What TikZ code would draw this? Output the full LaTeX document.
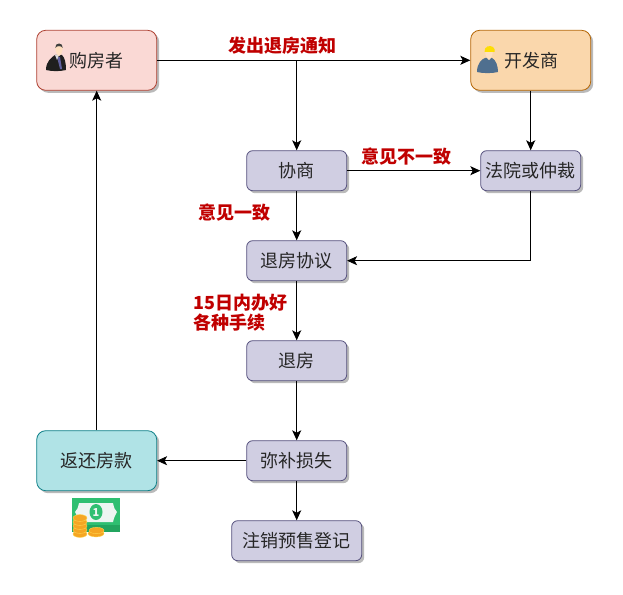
\documentclass[tikz,border=0pt]{standalone}
\usepackage{fontspec}
\setmainfont{Noto Sans CJK SC}
\usetikzlibrary{arrows.meta,shadows}
\definecolor{boxfill}{HTML}{D0CEE2}\definecolor{boxline}{HTML}{56517E}
\definecolor{redfill}{HTML}{FAD9D5}\definecolor{redline}{HTML}{AE4132}
\definecolor{orfill}{HTML}{FAD7AC}\definecolor{orline}{HTML}{B46504}
\definecolor{tealfill}{HTML}{B0E3E6}\definecolor{tealline}{HTML}{0E8088}
\definecolor{lab}{HTML}{C00000}
\definecolor{billg}{HTML}{2FBF71}\definecolor{billd}{HTML}{23A55F}\definecolor{billw}{HTML}{EEF5F2}
\definecolor{coin}{HTML}{F5A623}\definecolor{coinl}{HTML}{FFD34D}
\definecolor{devb}{HTML}{4F6F8F}
\tikzset{x=1pt,y=-1pt,
 flow/.style={rectangle,rounded corners=6pt,draw=boxline,fill=boxfill,line width=.8pt,minimum width=100pt,minimum height=40pt,inner sep=0pt,font=\fontsize{18}{20}\selectfont,text=black!85,drop shadow={shadow xshift=2.5pt,shadow yshift=-2.5pt,fill=black!45,opacity=.6}},
 big/.style={flow,minimum width=120pt,minimum height=60pt,rounded corners=9pt},
 conn/.style={draw=black,line width=.8pt,-{Stealth[length=10pt,width=9pt,inset=2.5pt]}},
 lbl/.style={font=\fontsize{18}{20}\bfseries\selectfont,text=lab,align=left,inner sep=0pt},
 coinst/.style={fill=coin,draw=coinl,line width=.4pt}}
\begin{document}
\begin{tikzpicture}
\useasboundingbox (0,0) rectangle (623,594);
\node[big,draw=redline,fill=redfill] (buyer) at (96.7,60.3) {};
\node[big,draw=orline,fill=orfill] (dev) at (530.7,60.3) {};
\node[flow] (xs) at (296.7,170.7) {协商};
\node[flow] (court) at (530.7,170.7) {法院或仲裁};
\node[flow] (xy) at (296.7,260.7) {退房协议};
\node[flow] (tf) at (296.7,360.7) {退房};
\node[flow] (mb) at (296.7,460.7) {弥补损失};
\node[flow,minimum width=130pt] (zx) at (296.7,540.7) {注销预售登记};
\node[big,draw=tealline,fill=tealfill] (fh) at (96.7,460.7) {返还房款};
\node[font=\fontsize{18}{20}\selectfont,text=black!85,inner sep=0pt] (buyert) at (96.5,60.5) {购房者};
\node[font=\fontsize{18}{20}\selectfont,text=black!85,inner sep=0pt] (devt) at (531,60.5) {开发商};
\coordinate (j) at (296.7,60.3);
\draw[conn] (buyer) -- (dev);
\draw[conn] (j) -- (xs);
\draw[conn] (dev) -- (court);
\draw[conn] (xs) -- (court);
\draw[conn] (xs) -- (xy);
\draw[conn] (court.south) |- (xy.east);
\draw[conn] (xy) -- (tf);
\draw[conn] (tf) -- (mb);
\draw[conn] (mb) -- (zx);
\draw[conn] (mb) -- (fh);
\draw[conn] (fh) -- (buyer);
\node[lbl,anchor=center] (l1) at (282,46) {发出退房通知};
\node[lbl,anchor=center] (l2) at (406,156.5) {意见不一致};
\node[lbl,anchor=center] (l3) at (234,212.5) {意见一致};
\node[lbl,anchor=north west] (l4) at (193,294) {15日内办好\\各种手续};
% buyer icon
\fill[black!88] (46,70) .. controls (46,61) and (52,57) .. (55,55) -- (62,55) .. controls (65,58) and (66,63) .. (66,70) .. controls (60,71.5) and (52,71.5) .. (46,70) -- cycle;
\fill[blue!25!gray] (57,57) -- (60,57) -- (62,69) -- (60,69) -- cycle;
\fill[white!85!black] (55,55) -- (57,60) -- (59,55) -- cycle;
\fill[orange!25!white] (55.3,48) .. controls (55,42) and (63,42) .. (62.7,48) .. controls (62.5,53) and (60,56) .. (59,56) .. controls (58,56) and (55.5,53) .. (55.3,48) -- cycle;
\fill[black!75] (55.3,48) .. controls (54.5,42) and (63.5,42) .. (62.7,48) .. controls (62,45.5) and (56,45.5) .. (55.3,48) -- cycle;
% developer icon
\fill[devb] (477,72) .. controls (477,63) and (482,59) .. (485,58) -- (492,58) .. controls (496,60) and (498,66) .. (498,72) .. controls (492,73.5) and (483,73.5) .. (477,72) -- cycle;
\fill[orange!25!white] (485,50) -- (493,50) .. controls (493,56) and (490,60) .. (489,60) .. controls (488,60) and (485,56) .. (485,50) -- cycle;
\fill[yellow!80!orange] (484.5,52) .. controls (484,46) and (490,45) .. (493,47) .. controls (495,48) and (495,51) .. (494.5,52) -- cycle;
% money icon
\fill[billg] (72,498) rectangle (120,532);
\fill[billd] (72,525) rectangle (120,532);
\fill[billw] (79,503) .. controls (78,508) and (77,510) .. (75,512) .. controls (77,515) and (78,518) .. (79,522) -- (113,522) .. controls (114,518) and (115,515) .. (117,512) .. controls (115,510) and (114,508) .. (113,503) -- cycle;
\fill[billg] (96,512) ellipse (6.5 and 8);
\node[font=\fontsize{11}{11}\bfseries\selectfont,text=billw,inner sep=0pt] (one) at (96,512) {1};
\foreach \y in {534,530,526,522,518}{\fill[coinst] (80,\y) ellipse (7 and 3.4);}
\fill[coinst] (96,533.5) ellipse (8 and 3.4);
\fill[coinst] (96.5,530.5) ellipse (7.5 and 3.2);
\end{tikzpicture}
\end{document}
